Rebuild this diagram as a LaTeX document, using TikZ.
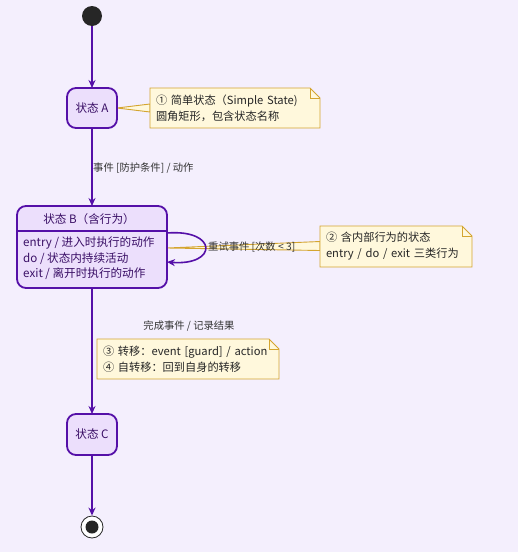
\documentclass[tikz,border=0pt]{standalone}
\usepackage{fontspec}
\setmainfont{Noto Sans CJK SC}
\usetikzlibrary{arrows.meta,backgrounds}
\definecolor{bgc}{HTML}{F4EFFD}
\definecolor{stfill}{HTML}{ECDFFC}
\definecolor{stline}{HTML}{5510A8}
\definecolor{sttext}{HTML}{3A0F66}
\definecolor{notefill}{HTML}{FFF8DC}
\definecolor{noteline}{HTML}{D4A530}
\definecolor{lbltext}{HTML}{333333}
\tikzset{
  x=1pt, y=-1pt,
  stbox/.style={draw=stline, fill=stfill, line width=1.8pt, rounded corners=9pt,
    text=sttext, font=\fontsize{11.6}{13}\selectfont, inner sep=0pt, outer sep=0pt},
  notebox/.style={text=black!85, font=\fontsize{11.2}{16}\selectfont, align=left,
    inner xsep=6pt, inner ysep=0pt, outer sep=0pt, anchor=north west},
  noteshape/.style={draw=noteline, fill=notefill, line width=0.9pt},
  trans/.style={draw=stline, line width=1.6pt, -{Stealth[length=8pt,width=7pt]}},
  lbl/.style={text=lbltext, font=\fontsize{10.3}{12}\selectfont, inner sep=0pt},
}
\begin{document}
\begin{tikzpicture}
\useasboundingbox (0,0) rectangle (518,552);

% start / end
\node[circle, fill=black!85, minimum size=20pt, inner sep=0pt] (start) at (92,16) {};
\node[circle, draw=black!85, fill=white, line width=0.8pt, minimum size=22pt, inner sep=0pt] (fin) at (92,527) {};
\node[circle, fill=black!85, minimum size=13pt, inner sep=0pt] (finin) at (92,527) {};

% states
\node[stbox, minimum width=50pt, minimum height=40pt, anchor=north west] (A) at (67,88) {状态 A};
\node[stbox, minimum width=150pt, minimum height=82pt, anchor=north west] (B) at (17,206) {};
\node[text=sttext, font=\fontsize{11.6}{13}\selectfont, inner sep=0pt] (Bh) at (89,219) {状态 B（含行为）};
\coordinate (Bdl) at (17,231);
\coordinate (Bdr) at (167,231);
\draw[stline, line width=1.3pt] (Bdl) -- (Bdr);
\node[text=sttext, font=\fontsize{11.6}{15.3}\selectfont, align=left, anchor=north west, inner sep=0pt] (Bbody) at (23,237)
  {entry / 进入时执行的动作\\do / 状态内持续活动\\exit / 离开时执行的动作};
\node[stbox, minimum width=50pt, minimum height=41pt, anchor=north west] (C) at (67,414) {状态 C};

% notes text
\node[notebox, text width=158pt, minimum height=40pt] (n1) at (150,88)
  {① 简单状态（Simple State)\\圆角矩形，包含状态名称};
\node[notebox, text width=140pt, minimum height=41pt] (n2) at (320,226)
  {② 含内部行为的状态\\entry / do / exit 三类行为};
\node[notebox, text width=170pt, minimum height=40pt] (n3) at (97,339)
  {③ 转移：event [guard] / action\\④ 自转移：回到自身的转移};

% note shapes behind
\begin{scope}[on background layer]
\fill[bgc] (0,0) rectangle (518,552);
\filldraw[noteshape] (A.east) -- ([yshift=-4pt]n1.west) -- ([yshift=4pt]n1.west) -- cycle;
\filldraw[noteshape] ([yshift=-1pt]B.east) -- ([yshift=5pt]n2.west) -- ([yshift=-4pt]n2.west) -- cycle;
\foreach \n in {n1,n2,n3}{
  \filldraw[noteshape] (\n.north west) -- ([xshift=-10pt]\n.north east) -- ([yshift=-10pt]\n.north east)
     -- (\n.south east) -- (\n.south west) -- cycle;
  \draw[noteshape, fill=none] ([xshift=-10pt]\n.north east) -- ([xshift=-10pt,yshift=-10pt]\n.north east)
     -- ([yshift=-10pt]\n.north east);
}
\end{scope}

% transitions
\draw[trans] (start) -- (A.north);
\draw[trans] (A) -- (B.north);
\node[lbl, anchor=west] (l1) at (93,168) {事件 [防护条件] / 动作};
\coordinate (Bself1) at (167,233);
\coordinate (Bself2) at (167,262);
\draw[trans] (Bself1) .. controls (218,229) and (218,266) .. (Bself2);
\node[lbl, anchor=west] (l2) at (208,247) {重试事件 [次数 < 3]};
\draw[trans] (B.south) -- (C.north);
\node[lbl] (l3) at (189,326) {完成事件 / 记录结果};
\draw[trans] (C) -- (fin);
\end{tikzpicture}
\end{document}
